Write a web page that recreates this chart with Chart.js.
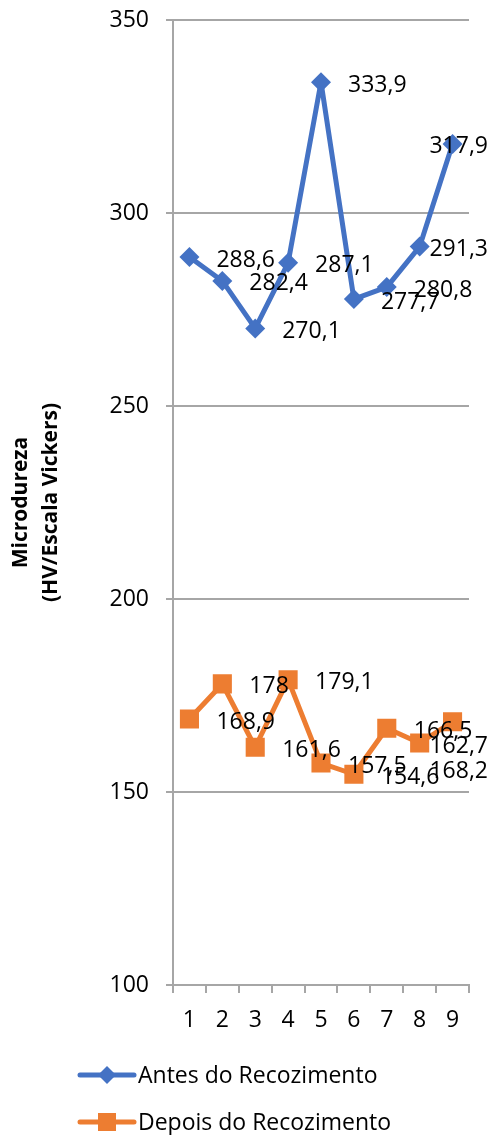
<!DOCTYPE html>
<html>
<head>
<meta charset="utf-8">
<script src="https://cdn.jsdelivr.net/npm/chart.js@4.4.0/dist/chart.umd.min.js"></script>
<style>
  html, body { margin: 0; padding: 0; background: #fff; }
  #wrap { width: 493px; height: 1135px; position: relative; }
</style>
</head>
<body>
<div id="wrap"><canvas id="microChart"></canvas></div>
<script>
// amostras 1..9, microdureza antes/depois do recozimento
const amostras = ['1', '2', '3', '4', '5', '6', '7', '8', '9'];
const antes = [288.6, 282.4, 270.1, 287.1, 333.9, 277.7, 280.8, 291.3, 317.9];
const depois = [168.9, 178, 161.6, 179.1, 157.5, 154.6, 166.5, 162.7, 168.2];
const yTicks = [100, 150, 200, 250, 300, 350];
const nomes = ['Antes do Recozimento', 'Depois do Recozimento'];

const azul = '#4472C4';
const laranja = '#ED7D31';
const cinza = '#a6a6a6';
const fonte = '"Open Sans", sans-serif';

Chart.defaults.font.family = fonte;
Chart.defaults.color = '#000';

// valores ao lado de cada ponto, com virgula decimal
const valueLabels = {
    id: 'valueLabels',
    afterDatasetsDraw(chart) {
        const ctx = chart.ctx;
        ctx.save();
        ctx.font = '23px ' + fonte;
        ctx.fillStyle = '#000';
        ctx.textBaseline = 'middle';
        chart.data.datasets.forEach((ds, i) => {
            const presos = [];  // rotulos empurrados para dentro pela borda direita
            chart.getDatasetMeta(i).data.forEach((pt, j) => {
                const txt = String(ds.data[j]).replace('.', ',');
                const w = ctx.measureText(txt).width;
                let x = pt.x + 27;
                let y = pt.y + 3;
                if (x + w > chart.width - 5) {
                    x = chart.width - 5 - w;
                    // se bater em outro rotulo preso, desce uma linha
                    presos.forEach(py => {
                        if (Math.abs(py - y) < 24) y = py + 25;
                    });
                    presos.push(y);
                }
                ctx.fillText(txt, x, y);
            });
        });
        ctx.restore();
    }
};

// legenda em lista, uma serie por linha
const legendList = {
    id: 'legendList',
    afterDraw(chart) {
        const ctx = chart.ctx;
        const rows = [chart.height - 60, chart.height - 13];
        ctx.save();
        chart.data.datasets.forEach((ds, i) => {
            const y = rows[i];
            ctx.strokeStyle = ds.borderColor;
            ctx.fillStyle = ds.borderColor;
            ctx.lineWidth = 5;
            ctx.lineCap = 'round';
            ctx.beginPath();
            ctx.moveTo(80, y);
            ctx.lineTo(134, y);
            ctx.stroke();
            ctx.beginPath();
            if (ds.pointStyle === 'rectRot') {
                ctx.moveTo(107, y - 9);
                ctx.lineTo(116, y);
                ctx.lineTo(107, y + 9);
                ctx.lineTo(98, y);
                ctx.closePath();
            } else {
                ctx.rect(98, y - 9, 18, 18);
            }
            ctx.fill();
            ctx.font = '23px ' + fonte;
            ctx.fillStyle = '#000';
            ctx.textBaseline = 'middle';
            ctx.fillText(ds.label, 138, y + 1);
        });
        ctx.restore();
    }
};

const ctx = document.getElementById('microChart').getContext('2d');
window.microChart = new Chart(ctx, {
    type: 'line',
    data: {
        labels: amostras,
        datasets: [{
            label: nomes[0],
            data: antes,
            borderColor: azul,
            backgroundColor: azul,
            borderWidth: 5,
            borderCapStyle: 'round',
            borderJoinStyle: 'round',
            pointStyle: 'rectRot',
            pointRadius: 10,
            pointBorderWidth: 0,
            tension: 0
        }, {
            label: nomes[1],
            data: depois,
            borderColor: laranja,
            backgroundColor: laranja,
            borderWidth: 5,
            borderCapStyle: 'round',
            borderJoinStyle: 'round',
            pointStyle: 'rect',
            pointRadius: 13.5,
            pointBorderWidth: 0,
            tension: 0
        }]
    },
    options: {
        responsive: true,
        maintainAspectRatio: false,
        animation: false,
        layout: { padding: { top: 20, right: 24, bottom: 90, left: 0 } },
        plugins: {
            legend: { display: false },
            tooltip: { enabled: false }
        },
        scales: {
            x: {
                offset: true,
                grid: { offset: true, drawOnChartArea: false, tickLength: 8, color: cinza, lineWidth: 2 },
                border: { color: cinza, width: 2 },
                ticks: { font: { size: 23 }, color: '#000', padding: 14, maxRotation: 0 },
                afterFit(s) { s.height = 60; s.paddingLeft = 0; s.paddingRight = 0; }
            },
            y: {
                min: 100,
                max: 350,
                afterBuildTicks(s) { s.ticks = yTicks.map(v => ({ value: v })); },
                grid: { tickLength: 7, color: cinza, lineWidth: 2 },
                border: { color: cinza, width: 2 },
                ticks: { font: { size: 23 }, color: '#000', padding: 17 },
                title: {
                    display: true,
                    text: ['Microdureza', '(HV/Escala Vickers)'],
                    font: { size: 21, weight: 'bold', lineHeight: 1.43 },
                    color: '#000',
                    padding: { top: 6, bottom: 0 }
                },
                afterFit(s) { s.width = 173; s.paddingTop = 0; s.paddingBottom = 0; }
            }
        }
    },
    plugins: [valueLabels, legendList]
});
</script>
</body>
</html>
